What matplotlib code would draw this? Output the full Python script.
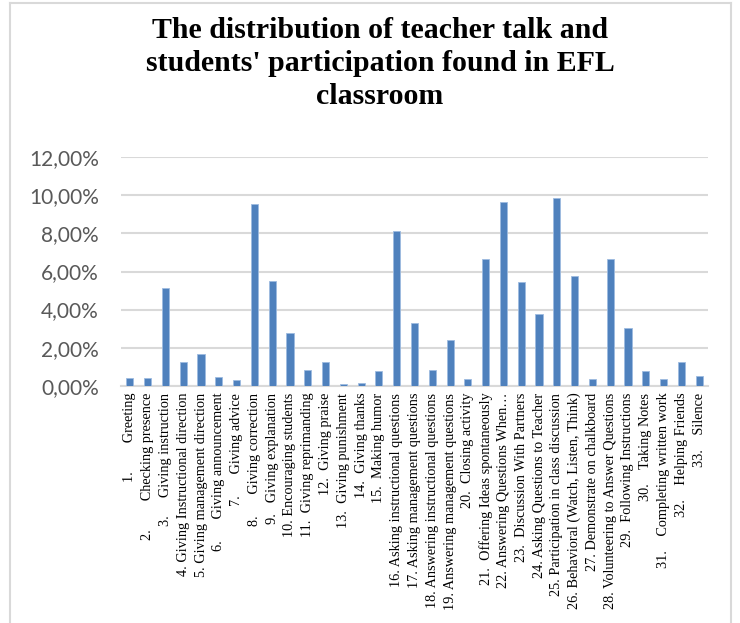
import matplotlib
matplotlib.use('Agg')
import matplotlib.pyplot as plt
import numpy as np
from matplotlib.ticker import FuncFormatter
from matplotlib.lines import Line2D

# labels as they appear (number, gap, text)
numbers = [str(i) + '.' for i in range(1, 34)]
gaps = [8, 8, 5, 1, 1, 6, 6, 6, 3, 1, 2, 2, 2, 2, 2, 1, 1,
        1, 1, 2, 2, 1, 2, 1, 1, 1, 1, 1, 2, 4, 4, 4, 4]
texts = ['Greeting', 'Checking presence', 'Giving instruction',
         'Giving Instructional direction', 'Giving management direction',
         'Giving announcement', 'Giving advice', 'Giving correction',
         'Giving explanation', 'Encouraging students', 'Giving reprimanding',
         'Giving praise', 'Giving punishment', 'Giving thanks', 'Making humor',
         'Asking instructional questions', 'Asking management questions',
         'Answering instructional questions', 'Answering management questions',
         'Closing activity', 'Offering Ideas spontaneously',
         'Answering Questions When\u2026', 'Discussion With Partners',
         'Asking Questions to Teacher', 'Participation in class discussion',
         'Behavioral (Watch, Listen, Think)', 'Demonstrate on chalkboard',
         'Volunteering to Answer Questions', 'Following Instructions',
         'Taking Notes', 'Completing written work', 'Helping Friends', 'Silence']
# percentages
values = [0.40, 0.40, 5.11, 1.24, 1.65, 0.44, 0.28, 9.53, 5.52, 2.77, 0.82,
          1.24, 0.09, 0.12, 0.79, 8.11, 3.27, 0.84, 2.40, 0.35, 6.64, 9.67,
          5.45, 3.75, 9.86, 5.76, 0.37, 6.67, 3.03, 0.75, 0.35, 1.26, 0.51]
yticks = [0, 2, 4, 6, 8, 10, 12]

labels = [n + ' ' * g + t for n, g, t in zip(numbers, gaps, texts)]

W, H = 740, 623
fig = plt.figure(figsize=(W / 100, H / 100), dpi=100)
ax = fig.add_axes([121 / W, 1 - 385.7 / H, (708 - 121) / W, (385.7 - 157.3) / H])

x = np.arange(len(values))
ax.bar(x, values, width=0.4, color='#4f81bd', edgecolor='#9dbbe0', linewidth=0.6, zorder=3)

ax.set_xlim(-0.5, len(values) - 0.5)
ax.set_ylim(0, 12)
ax.set_yticks(yticks)
ax.yaxis.set_major_formatter(FuncFormatter(lambda v, p: f'{v:.2f}%'.replace('.', ',')))
ax.grid(axis='y', color='#d9d9d9', linewidth=1.5, zorder=0)
for s in ['top', 'right', 'left']:
    ax.spines[s].set_visible(False)
ax.spines['bottom'].set_color('#d9d9d9')
ax.spines['bottom'].set_linewidth(1.5)
ax.tick_params(axis='y', length=0, pad=16, labelsize=15, labelcolor='#595959')
for t in ax.get_yticklabels():
    t.set_family('Lato')

ax.set_xticks(x)
ax.set_xticklabels(labels, rotation=90, family='Liberation Serif', fontsize=10.3)
ax.tick_params(axis='x', length=0, pad=5)

fig.text(380 / W, 1 - 17 / H,
         "The distribution of teacher talk and\nstudents' participation found in EFL\nclassroom",
         ha='center', va='top', family='Liberation Serif', weight='bold',
         fontsize=21.5, linespacing=1.28)

# chart area border
bc = '#d9d9d9'
fig.add_artist(Line2D([10 / W, 10 / W], [0, 1 - 3 / H], color=bc, lw=1.5))
fig.add_artist(Line2D([10 / W, 731 / W], [1 - 3 / H, 1 - 3 / H], color=bc, lw=1.5))
fig.add_artist(Line2D([731 / W, 731 / W], [0, 1 - 3 / H], color=bc, lw=1.5))

fig.savefig('out.png', dpi=100)
